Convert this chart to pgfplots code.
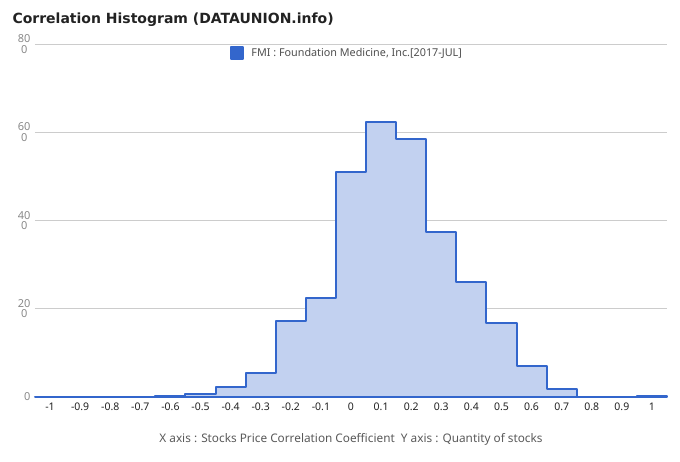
\documentclass[border=0pt]{standalone}
\usepackage{fontspec}
\setmainfont{Noto Sans}
\newfontfamily\titlefont{DejaVu Sans}
\usepackage{pgfplots}
\pgfplotsset{compat=1.18}
\definecolor{lineblue}{HTML}{3366CC}
\definecolor{fillblue}{HTML}{C2D1F0}
\definecolor{gridgray}{HTML}{CCCCCC}
\definecolor{labgray}{HTML}{888888}
\definecolor{txt}{HTML}{222222}
\begin{document}
\begin{tikzpicture}
\begin{axis}[
  scale only axis,
  width=632pt, height=353pt,
  xmin=-1.05, xmax=1.05,
  ymin=0, ymax=80,
  axis x line*=bottom, axis y line*=left,
  y axis line style={draw=none},
  x axis line style={draw=txt, line width=0.8pt},
  major tick length=0pt,
  xtick={-1,-0.9,...,1.01},
  xticklabels={-1,-0.9,-0.8,-0.7,-0.6,-0.5,-0.4,-0.3,-0.2,-0.1,0,0.1,0.2,0.3,0.4,0.5,0.6,0.7,0.8,0.9,1},
  ytick={0,20,40,60,80},
  yticklabels={0,{20\\0},{40\\0},{60\\0},{80\\0}},
  yticklabel style={align=center, text=labgray, font=\fontsize{11}{10.5}\selectfont, xshift=-1pt},
  xticklabel style={text=txt, font=\fontsize{10.5}{12}\selectfont, yshift=-2pt},
  /pgf/number format/assume math mode=true,
  ymajorgrids, major grid style={draw=gridgray, line width=0.7pt},
  legend style={at={(0.494,0.998)}, anchor=north, draw=none, fill=none,
    font=\fontsize{10.8}{12}\selectfont, text=txt!80, inner sep=1pt},
  legend image code/.code={\fill[lineblue] (0pt,-6pt) rectangle (12pt,6pt);},
  clip=false,
]
\addplot[const plot mark left, draw=lineblue, fill=fillblue, line width=2pt, line join=round] coordinates {
(-1.05,0) (-0.95,0) (-0.85,0) (-0.75,0) (-0.65,0.3) (-0.55,0.6) (-0.45,2.2) (-0.35,5.5)
(-0.25,17.2) (-0.15,22.4) (-0.05,50.9) (0.05,62.3) (0.15,58.5) (0.25,37.4) (0.35,26.1)
(0.45,16.8) (0.55,7.0) (0.65,1.7) (0.75,0) (0.85,0) (0.95,0.3) (1.05,0.3)
} \closedcycle;
\addlegendentry{\hspace{5pt}FMI : Foundation Medicine, Inc.[2017-JUL]}
\end{axis}
\node[anchor=west, text=txt, font=\titlefont\bfseries\fontsize{14}{16}\selectfont] at ([shift={(-26pt,377pt)}]current axis.south west) {Correlation Histogram (DATAUNION.info)};
\node[text=txt!75, font=\fontsize{11.8}{13}\selectfont] at ([shift={(316pt,-42pt)}]current axis.south west) {X axis : Stocks Price Correlation Coefficient\ \ Y axis : Quantity of stocks};
\path[use as bounding box] ([shift={(-35pt,-65pt)}]current axis.south west) rectangle ++(680pt,462pt);
\end{tikzpicture}
\end{document}
